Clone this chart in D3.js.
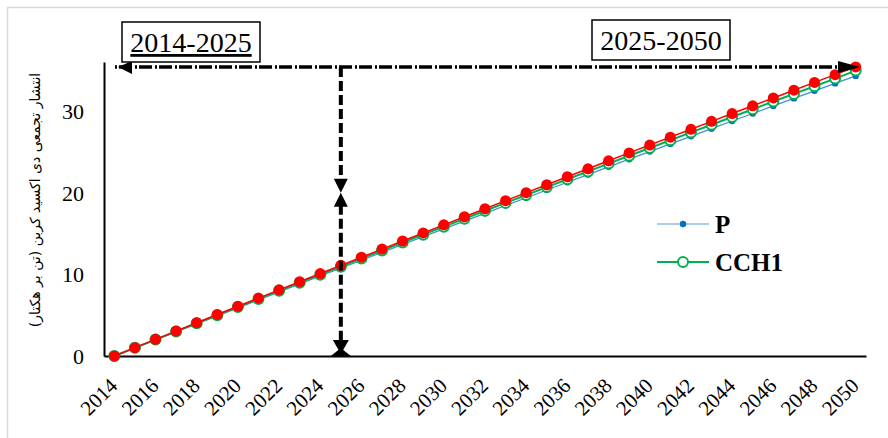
<!DOCTYPE html>
<html><head><meta charset="utf-8">
<script src="https://cdn.jsdelivr.net/npm/d3@7"></script>
<style>
html,body{margin:0;padding:0;background:#fff;}
svg{display:block;}
</style></head>
<body>
<svg id="chart" width="888" height="438"></svg>
<script>
const years = [2014,2015,2016,2017,2018,2019,2020,2021,2022,2023,2024,2025,2026,2027,2028,2029,2030,2031,2032,2033,2034,2035,2036,2037,2038,2039,2040,2041,2042,2043,2044,2045,2046,2047,2048,2049,2050];
const seriesP = [0,0.99,1.97,2.96,3.94,4.92,5.90,6.87,7.85,8.82,9.79,10.76,11.72,12.69,13.65,14.61,15.57,16.52,17.47,18.43,19.38,20.32,21.27,22.21,23.16,24.10,25.03,25.97,26.90,27.84,28.77,29.69,30.62,31.54,32.47,33.38,34.30];
const seriesCCH1 = [0,1.00,2.01,3.01,4.01,5.00,6.00,6.99,7.98,8.97,9.96,10.94,11.93,12.91,13.89,14.86,15.84,16.81,17.78,18.75,19.72,20.68,21.64,22.60,23.56,24.52,25.47,26.42,27.38,28.32,29.27,30.21,31.16,32.09,33.03,33.97,34.95];
const seriesRed = [0,1.02,2.04,3.05,4.07,5.08,6.09,7.09,8.10,9.10,10.10,11.10,12.10,13.09,14.08,15.07,16.06,17.05,18.03,19.02,20.00,20.97,21.95,22.92,23.90,24.87,25.83,26.80,27.76,28.73,29.69,30.64,31.60,32.55,33.50,34.45,35.40];
const yTicks = [0,10,20,30];
const xTickLabels = [2014,2016,2018,2020,2022,2024,2026,2028,2030,2032,2034,2036,2038,2040,2042,2044,2046,2048,2050];
const yLabel = "انتشار تجمعی دی اکسید کربن (تن بر هکتار)";
const legendNames = ["P","CCH1"];
const periodLabels = ["2014-2025","2025-2050"];
const splitYear = 2025;
const refLevel = 35.4;
const arrowMeet = 20;

const SERIF = '"Liberation Serif", "Times New Roman", serif';
const svg = d3.select("#chart");

// outer frame
svg.append("rect").attr("x",7.5).attr("y",7.5).attr("width",900).attr("height",460)
  .attr("fill","none").attr("stroke","#d9d9d9").attr("stroke-width",1.5);

const x = d3.scalePoint().domain(years).range([104,866]).padding(0.5);
const y = d3.scaleLinear().domain([0,36]).range([356,62]);

// axes
const gy = svg.append("g").attr("transform","translate(104,0)")
  .call(d3.axisLeft(y).tickValues(yTicks).tickSize(0).tickSizeOuter(0).tickPadding(20));
gy.select(".domain").attr("stroke","#000").attr("stroke-width",2);
gy.selectAll("text").style("font-family",SERIF).style("font-size","22px").attr("fill","#000").attr("dy","0.34em");

const gx = svg.append("g").attr("transform","translate(0,356)")
  .call(d3.axisBottom(x).tickValues(xTickLabels).tickSize(0).tickSizeOuter(0));
gx.select(".domain").attr("stroke","#000").attr("stroke-width",2);
gx.selectAll("text").style("font-family",SERIF).style("font-size","21px").attr("fill","#000")
  .attr("text-anchor","end").attr("dy",null).attr("y",0)
  .attr("transform","translate(4,31) rotate(-45)");

// y label
svg.append("text").attr("transform","translate(40,200) rotate(-90)")
  .attr("text-anchor","middle").attr("direction","rtl")
  .style("font-family",'"DejaVu Sans", sans-serif').style("font-size","14px").attr("fill","#000")
  .text(yLabel);

// series
const line = d3.line().x((d,i)=>x(years[i])).y(d=>y(d));
svg.append("path").datum(seriesP).attr("d",line).attr("fill","none").attr("stroke","#3d8fd6").attr("stroke-width",1.2);
svg.append("g").selectAll("circle").data(seriesP).join("circle")
  .attr("cx",(d,i)=>x(years[i])).attr("cy",d=>y(d)).attr("r",3.2).attr("fill","#0070c0");
svg.append("path").datum(seriesCCH1).attr("d",line).attr("fill","none").attr("stroke","#00b050").attr("stroke-width",2);
svg.append("g").selectAll("circle").data(seriesCCH1).join("circle")
  .attr("cx",(d,i)=>x(years[i])).attr("cy",d=>y(d)).attr("r",5).attr("fill","#fff").attr("stroke","#00b050").attr("stroke-width",2);
svg.append("path").datum(seriesRed).attr("d",line).attr("fill","none").attr("stroke","#ff0000").attr("stroke-width",1.5);
svg.append("g").selectAll("circle").data(seriesRed).join("circle")
  .attr("cx",(d,i)=>x(years[i])).attr("cy",d=>y(d)).attr("r",5.5).attr("fill","#ff0000");

// horizontal reference line with arrows
const hy = y(refLevel);
const hx0 = 107, hx1 = 860;
svg.append("line").attr("x1",hx0+8).attr("x2",hx1-8).attr("y1",hy).attr("y2",hy)
  .attr("stroke","#000").attr("stroke-width",3.5).attr("stroke-dasharray","2,2,13,3");
svg.append("path").attr("d",`M${hx0+11},${hy} L${hx0+25},${hy-6} L${hx0+25},${hy+7} Z`).attr("fill","#000");
svg.append("path").attr("d",`M${hx1},${hy} L${hx1-22},${hy-6} L${hx1-22},${hy+6} Z`).attr("fill","#000");

// vertical split line
const vx = x(splitYear);
const ym = y(arrowMeet);
svg.append("line").attr("x1",vx).attr("x2",vx).attr("y1",y(refLevel)).attr("y2",ym-12)
  .attr("stroke","#000").attr("stroke-width",4).attr("stroke-dasharray","10,4");
svg.append("line").attr("x1",vx).attr("x2",vx).attr("y1",ym+12).attr("y2",y(0)-14)
  .attr("stroke","#000").attr("stroke-width",4).attr("stroke-dasharray","10,4");
svg.append("path").attr("d",`M${vx},${ym} L${vx-7},${ym-14} L${vx+7},${ym-14} Z`).attr("fill","#000");
svg.append("path").attr("d",`M${vx},${ym} L${vx-7},${ym+14} L${vx+7},${ym+14} Z`).attr("fill","#000");
const y0 = y(0);
svg.append("path").attr("d",`M${vx},${y0-2} L${vx-8},${y0-16} L${vx+8},${y0-16} Z`).attr("fill","#000");
svg.append("path").attr("d",`M${vx},${y0-8} L${vx-10},${y0} L${vx+10},${y0} Z`).attr("fill","#000");

// period boxes
const boxes = [{x:122,y:22,w:138,h:40,u:true},{x:592,y:20,w:138,h:40,u:false}];
boxes.forEach((b,i)=>{
  svg.append("rect").attr("x",b.x).attr("y",b.y).attr("width",b.w).attr("height",b.h)
    .attr("fill","#fff").attr("stroke","#000").attr("stroke-width",1.5);
  svg.append("text").attr("x",b.x+b.w/2).attr("y",b.y+30).attr("text-anchor","middle")
    .style("font-family",SERIF).style("font-size","28px").attr("fill","#000")
    .style("text-decoration",b.u?"underline":"none").text(periodLabels[i]);
});

// legend
const lg = svg.append("g");
const ly = [224,262];
lg.append("line").attr("x1",657).attr("x2",709).attr("y1",ly[0]).attr("y2",ly[0]).attr("stroke","#5b9bd5").attr("stroke-width",1.2);
lg.append("circle").attr("cx",683).attr("cy",ly[0]).attr("r",3.2).attr("fill","#0070c0");
lg.append("line").attr("x1",657).attr("x2",709).attr("y1",ly[1]).attr("y2",ly[1]).attr("stroke","#00b050").attr("stroke-width",2);
lg.append("circle").attr("cx",683).attr("cy",ly[1]).attr("r",5).attr("fill","#fff").attr("stroke","#00b050").attr("stroke-width",2);
legendNames.forEach((n,i)=>{
  lg.append("text").attr("x",715).attr("y",ly[i]+9).style("font-family",SERIF).style("font-weight","bold")
    .style("font-size","25px").attr("fill","#000").text(n);
});
</script>
</body></html>
